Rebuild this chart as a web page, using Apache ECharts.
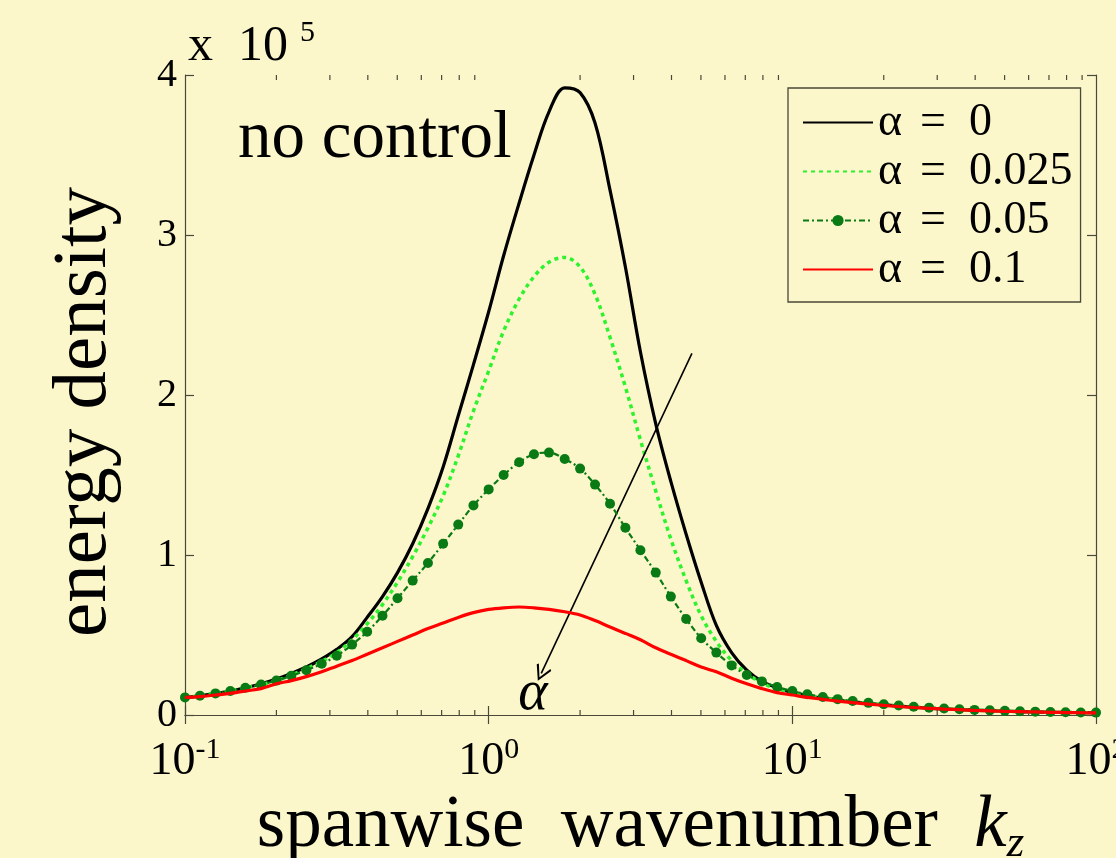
<!DOCTYPE html>
<html>
<head>
<meta charset="utf-8">
<script src="https://cdn.jsdelivr.net/npm/echarts@6/dist/echarts.min.js"></script>
<style>
html,body{margin:0;padding:0;background:#FBF7CB;}
#c{width:1116px;height:858px;}
</style>
</head>
<body>
<div id="c"></div>
<script>
// spanwise wavenumber k_z (log spaced samples)
const kz = [0.100,0.112,0.126,0.141,0.158,0.178,0.200,0.224,0.251,0.282,
            0.316,0.355,0.398,0.447,0.501,0.562,0.631,0.708,0.794,0.891,
            1.00,1.12,1.26,1.41,1.58,1.78,2.00,2.24,2.51,2.82,
            3.16,3.55,3.98,4.47,5.01,5.62,6.31,7.08,7.94,8.91,
            10.0,11.2,12.6,14.1,15.8,17.8,20.0,22.4,25.1,28.2,
            31.6,35.5,39.8,44.7,50.1,56.2,63.1,70.8,79.4,89.1,100];
// energy density (x 10^5)
const alpha0 = [0.11,0.12,0.135,0.15,0.17,0.195,0.225,0.26,0.30,0.35,
                0.41,0.49,0.61,0.74,0.89,1.07,1.29,1.55,1.87,2.19,
                2.52,2.87,3.20,3.50,3.77,3.92,3.89,3.70,3.28,2.80,
                2.27,1.82,1.46,1.13,0.83,0.56,0.39,0.28,0.21,0.17,
                0.14,0.12,0.105,0.093,0.082,0.072,0.063,0.056,0.049,0.043,
                0.038,0.034,0.030,0.027,0.024,0.021,0.019,0.017,0.016,0.015,0.014];
const alpha0025 = [0.11,0.12,0.135,0.15,0.17,0.19,0.215,0.25,0.29,0.335,
                   0.39,0.47,0.57,0.69,0.83,0.99,1.17,1.37,1.62,1.90,
                   2.15,2.40,2.60,2.74,2.83,2.86,2.80,2.63,2.36,2.05,
                   1.72,1.40,1.10,0.84,0.62,0.46,0.34,0.26,0.20,0.165,
                   0.14,0.12,0.105,0.093,0.082,0.072,0.063,0.056,0.049,0.043,
                   0.038,0.034,0.030,0.027,0.024,0.021,0.019,0.017,0.016,0.015,0.014];
const alpha005 = [0.11,0.12,0.135,0.15,0.17,0.19,0.215,0.245,0.28,0.32,
                  0.37,0.44,0.52,0.62,0.73,0.84,0.95,1.07,1.19,1.31,
                  1.41,1.50,1.58,1.63,1.64,1.60,1.54,1.44,1.32,1.17,
                  1.03,0.89,0.74,0.60,0.48,0.39,0.31,0.25,0.21,0.175,
                  0.15,0.13,0.113,0.099,0.087,0.076,0.067,0.059,0.052,0.046,
                  0.041,0.036,0.032,0.029,0.026,0.023,0.021,0.019,0.017,0.016,0.015];
const alpha01 = [0.11,0.115,0.125,0.135,0.15,0.165,0.195,0.215,0.24,0.27,
                 0.305,0.34,0.38,0.42,0.46,0.50,0.54,0.575,0.61,0.64,
                 0.66,0.67,0.675,0.67,0.66,0.645,0.625,0.59,0.55,0.51,
                 0.47,0.42,0.38,0.34,0.30,0.27,0.23,0.195,0.165,0.14,
                 0.125,0.11,0.098,0.087,0.077,0.068,0.060,0.053,0.047,0.042,
                 0.037,0.033,0.029,0.026,0.023,0.021,0.019,0.017,0.015,0.014,0.013];
const seriesNames = ['α = 0','α = 0.025','α = 0.05','α = 0.1'];
const yTicks = [0,1,2,3,4];
const xMinorTicks = [0.2,0.3,0.4,0.5,0.6,0.7,0.8,0.9,2,3,4,5,6,7,8,9,20,30,40,50,60,70,80,90];
// annotation arrow (data coords) and its label
const arrowFrom = [4.67, 2.26];
const arrowTo = [1.49, 0.26];
const alphaLabelAt = [1.40, 0.13];

const FONT = '"Liberation Serif", "DejaVu Serif", serif';
const AX = '#4a4838';
const BG = '#FBF7CB';

const pairs = arr => kz.map((k, i) => [k, arr[i]]);

const chart = echarts.init(document.getElementById('c'), null, {renderer: 'canvas'});

const logAxisBase = {
  type: 'log', logBase: 10, min: 0.1, max: 100,
  axisLine: {show: true, lineStyle: {color: AX, width: 1.2}},
  axisTick: {show: true, inside: true, length: 9, lineStyle: {color: AX, width: 1.2}},
  splitLine: {show: false},
  minorTick: {show: false}
};
const valAxisBase = {
  type: 'value', min: yTicks[0], max: yTicks[yTicks.length - 1], interval: 1,
  axisLine: {show: true, lineStyle: {color: AX, width: 1.2}},
  axisTick: {show: true, inside: true, length: 9, lineStyle: {color: AX, width: 1.2}},
  splitLine: {show: false}
};

const option = {
  backgroundColor: BG,
  animation: false,
  grid: {left: 185, right: 20, top: 75, bottom: 143, containLabel: false, outerBoundsMode: 'none'},
  xAxis: [
    Object.assign({}, logAxisBase, {
      position: 'bottom',
      name: '{n|spanwise  wavenumber  }{k|k}{z|z}',
      nameLocation: 'middle', nameGap: 46,
      nameTextStyle: {
        padding: [0, 0, 0, 0],
        rich: {
          n: {fontFamily: FONT, fontSize: 73, color: '#000', lineHeight: 80},
          k: {fontFamily: FONT, fontSize: 73, fontStyle: 'italic', color: '#000', lineHeight: 80},
          z: {fontFamily: FONT, fontSize: 45, fontStyle: 'italic', color: '#000', lineHeight: 80, verticalAlign: 'bottom'}
        }
      },
      axisLabel: {
        show: true, margin: 20, showMinLabel: true, showMaxLabel: true,
        formatter: v => '{b|10}{s|' + Math.round(Math.log10(v)) + '}',
        rich: {
          b: {fontFamily: FONT, fontSize: 46, color: '#000', lineHeight: 50, verticalAlign: 'bottom'},
          s: {fontFamily: FONT, fontSize: 30, color: '#000', lineHeight: 50, verticalAlign: 'top'}
        }
      }
    }),
    Object.assign({}, logAxisBase, {position: 'top', axisLabel: {show: false}})
  ],
  yAxis: [
    Object.assign({}, valAxisBase, {
      position: 'left',
      name: 'energy density', nameLocation: 'middle', nameGap: 62,
      nameTextStyle: {fontFamily: FONT, fontSize: 77, color: '#000', padding: [0, 34, 0, 0]},
      axisLabel: {show: true, margin: 8, fontFamily: FONT, fontSize: 40, color: '#000'}
    }),
    Object.assign({}, valAxisBase, {position: 'right', axisLabel: {show: false}})
  ],
  legend: {
    orient: 'vertical', left: 788, top: 88,
    data: [
      {name: seriesNames[0], itemStyle: {opacity: 0}},
      {name: seriesNames[1], itemStyle: {opacity: 0}},
      {name: seriesNames[2]},
      {name: seriesNames[3], itemStyle: {opacity: 0}}
    ],
    itemWidth: 70, itemHeight: 14, itemGap: 2,
    padding: [11, 8, 9, 14],
    backgroundColor: BG, borderColor: AX, borderWidth: 1.3, borderRadius: 0,
    selectedMode: false,
    formatter: name => '{t|α}{e|=}{t|' + name.split(' = ')[1] + '}',
    textStyle: {
      color: '#000', fontFamily: FONT, fontSize: 46, lineHeight: 47,
      rich: {
        t: {fontFamily: FONT, fontSize: 46, color: '#000', lineHeight: 47},
        e: {fontFamily: FONT, fontSize: 46, color: '#000', lineHeight: 47, padding: [0, 23, 0, 18]}
      }
    }
  },
  graphic: [
    {type: 'text', left: 238, top: 106, silent: true,
     style: {text: 'no control', font: '67px ' + FONT, fill: '#000'}},
    {type: 'text', left: 188, top: 22, silent: true,
     style: {text: 'x  10', font: '50px ' + FONT, fill: '#000'}},
    {type: 'text', left: 300, top: 18, silent: true,
     style: {text: '5', font: '30px ' + FONT, fill: '#000'}}
  ],
  series: [
    {
      name: seriesNames[0], type: 'line', data: pairs(alpha0), smooth: 0.35,
      symbol: 'none', lineStyle: {color: '#000', width: 3.2}, itemStyle: {color: '#000'}, z: 3
    },
    {
      name: seriesNames[1], type: 'line', data: pairs(alpha0025), smooth: 0.35,
      symbol: 'none', lineStyle: {color: '#2df22d', width: 3.5, type: [4, 4]}, itemStyle: {color: '#2df22d'}, z: 4
    },
    {
      name: seriesNames[2], type: 'line', data: pairs(alpha005), smooth: 0.35,
      symbol: 'circle', symbolSize: 10, showSymbol: true,
      lineStyle: {color: '#0a7a14', width: 2.2, type: [6, 3, 2, 3]}, itemStyle: {color: '#0a7a14'}, z: 5
    },
    {
      name: seriesNames[3], type: 'line', data: pairs(alpha01), smooth: 0.35,
      symbol: 'none', lineStyle: {color: '#ff0000', width: 3.2}, itemStyle: {color: '#ff0000'}, z: 6,
      markLine: {
        silent: true, animation: false,
        symbol: ['none', 'path://M0,9 L5,0 L10,9 L9,10 L5,2.4 L1,10 Z'],
        symbolSize: [16, 16],
        label: {show: false},
        lineStyle: {color: '#000', width: 1.6, type: 'solid'},
        data: [[{coord: arrowFrom}, {coord: arrowTo}]]
      },
      markPoint: {
        silent: true, animation: false,
        symbol: 'circle', symbolSize: 1, itemStyle: {color: 'rgba(0,0,0,0)'},
        label: {show: true, position: 'inside', formatter: 'α', fontFamily: FONT, fontStyle: 'italic', fontSize: 56, color: '#000'},
        data: [{coord: alphaLabelAt}]
      }
    },
    {
      type: 'custom', silent: true, z: 2,
      data: xMinorTicks.map(v => [v, yTicks[0]]),
      renderItem: (params, api) => {
        const v = api.value(0);
        const pb = api.coord([v, yTicks[0]]);
        const pt = api.coord([v, yTicks[yTicks.length - 1]]);
        const st = {stroke: AX, lineWidth: 1.2};
        return {type: 'group', children: [
          {type: 'line', shape: {x1: pb[0], y1: pb[1], x2: pb[0], y2: pb[1] - 5}, style: st},
          {type: 'line', shape: {x1: pt[0], y1: pt[1], x2: pt[0], y2: pt[1] + 5}, style: st}
        ]};
      }
    }
  ]
};
chart.setOption(option);
</script>
</body>
</html>
